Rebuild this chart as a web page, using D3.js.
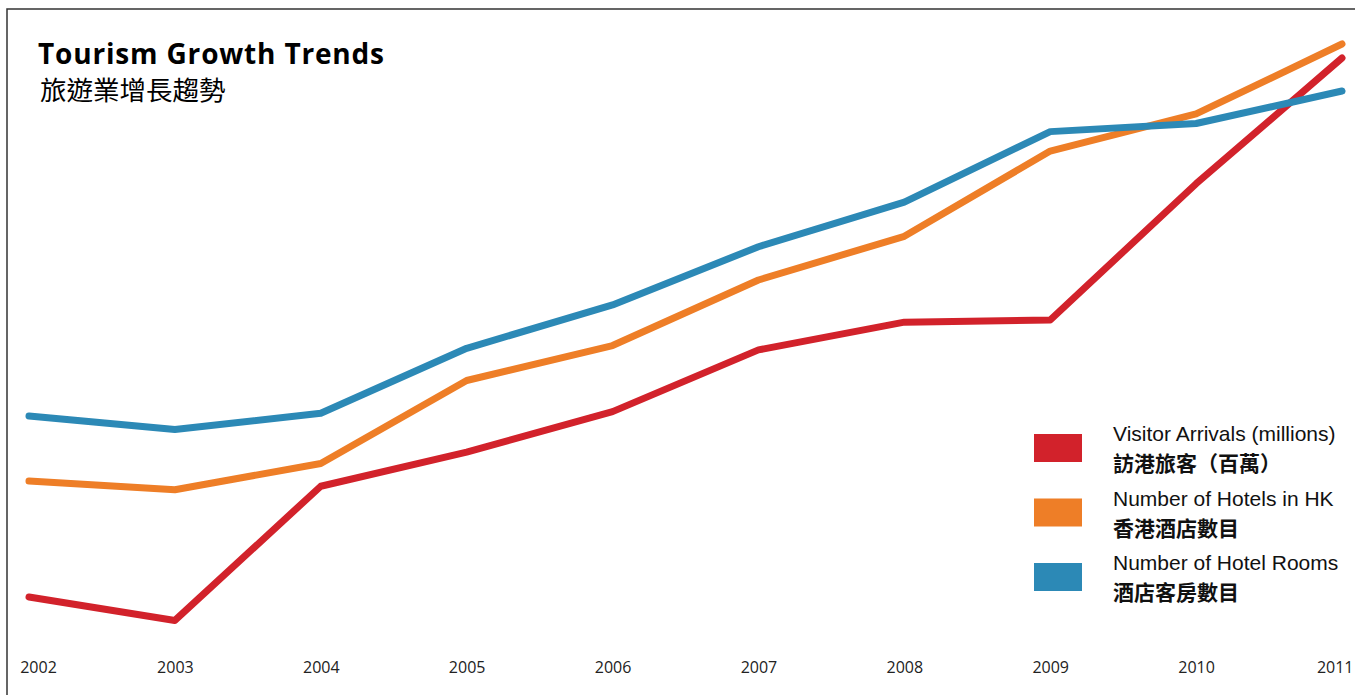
<!DOCTYPE html>
<html>
<head>
<meta charset="utf-8">
<script src="https://cdn.jsdelivr.net/npm/d3@7"></script>
<style>
  html, body { margin: 0; padding: 0; background: #fff; }
  svg { display: block; }
</style>
</head>
<body>
<svg id="chart" width="1355" height="695"></svg>
<script>
// ---- Data ----
const years = [2002, 2003, 2004, 2005, 2006, 2007, 2008, 2009, 2010, 2011];
const visitorArrivals = [16.6, 15.5, 21.8, 23.4, 25.3, 28.2, 29.5, 29.6, 36.0, 41.9]; // millions
const hotelCount = [100, 98, 104, 123, 131, 146, 156, 175.5, 184, 200];
const hotelRooms = [38000, 37000, 38200, 43000, 46200, 50500, 53800, 59000, 59600, 62000];
const legendEn = ["Visitor Arrivals (millions)", "Number of Hotels in HK", "Number of Hotel Rooms"];
const legendZh = ["訪港旅客（百萬）", "香港酒店數目", "酒店客房數目"];
const seriesColors = ["#d2222b", "#ee7e27", "#2c89b6"];
const titleEn = "Tourism Growth Trends";
const titleZh = "旅遊業增長趨勢";

// ---- Layout ----
const svg = d3.select("#chart");

// frame
svg.append("rect")
  .attr("x", 7).attr("y", 9)
  .attr("width", 1500).attr("height", 900)
  .attr("fill", "none").attr("stroke", "#333").attr("stroke-width", 1.5);

const x = d3.scaleLinear().domain([2002, 2011]).range([29, 1342]);

// each series has its own value scale (different units)
const scales = [
  d3.scaleLinear().domain([16.6, 41.9]).range([597, 58]),
  d3.scaleLinear().domain([100, 200]).range([481, 44]),
  d3.scaleLinear().domain([38000, 62000]).range([416, 91])
];
const seriesData = [visitorArrivals, hotelCount, hotelRooms];

seriesData.forEach((vals, i) => {
  const y = scales[i];
  const line = d3.line()
    .x((d, j) => x(years[j]))
    .y(d => y(d));
  svg.append("path")
    .datum(vals)
    .attr("d", line)
    .attr("fill", "none")
    .attr("stroke", seriesColors[i])
    .attr("stroke-width", 7)
    .attr("stroke-linecap", "round")
    .attr("stroke-linejoin", "round");
});

// x axis labels
const axis = d3.axisBottom(x)
  .tickValues(years)
  .tickFormat(d3.format("d"))
  .tickSize(0)
  .tickPadding(0);
const gAxis = svg.append("g")
  .attr("transform", "translate(0,673)")
  .call(axis);
gAxis.select(".domain").remove();
gAxis.selectAll("text")
  .attr("y", 0).attr("dy", 0)
  .attr("dx", d => d === 2002 ? 9 : 0)
  .attr("font-family", "'Open Sans', sans-serif")
  .attr("font-size", 16)
  .attr("fill", "#222");
// keep the last label inside the frame
gAxis.selectAll("text").filter(d => d === 2011)
  .attr("text-anchor", "end")
  .attr("dx", 1353 - x(2011));

// title
const t = svg.append("text")
  .attr("x", 38).attr("y", 64)
  .attr("font-family", "'Open Sans', sans-serif")
  .attr("font-weight", 700)
  .attr("font-size", 28)
  .attr("fill", "#000")
  .text(titleEn);
const tw = t.node().getComputedTextLength();
if (Math.abs(tw - 346) > 2) t.attr("textLength", 346).attr("lengthAdjust", "spacing");

svg.append("text")
  .attr("x", 40).attr("y", 100)
  .attr("font-family", "'Noto Sans CJK TC', sans-serif")
  .attr("font-size", 26.5)
  .attr("fill", "#000")
  .text(titleZh);

// legend
const lg = svg.append("g");
legendEn.forEach((label, i) => {
  const dy = i * 64.5;
  lg.append("rect")
    .attr("x", 1034).attr("y", 434 + dy)
    .attr("width", 48).attr("height", 28)
    .attr("fill", seriesColors[i]);
  lg.append("text")
    .attr("x", 1113).attr("y", 441 + dy)
    .attr("font-family", "'Liberation Sans', Arial, sans-serif")
    .attr("font-size", 21)
    .attr("fill", "#111")
    .text(label);
  lg.append("text")
    .attr("x", 1113).attr("y", 471 + dy)
    .attr("font-family", "'Noto Sans CJK TC', sans-serif")
    .attr("font-weight", 700)
    .attr("font-size", 21)
    .attr("fill", "#111")
    .text(legendZh[i]);
});
</script>
</body>
</html>
